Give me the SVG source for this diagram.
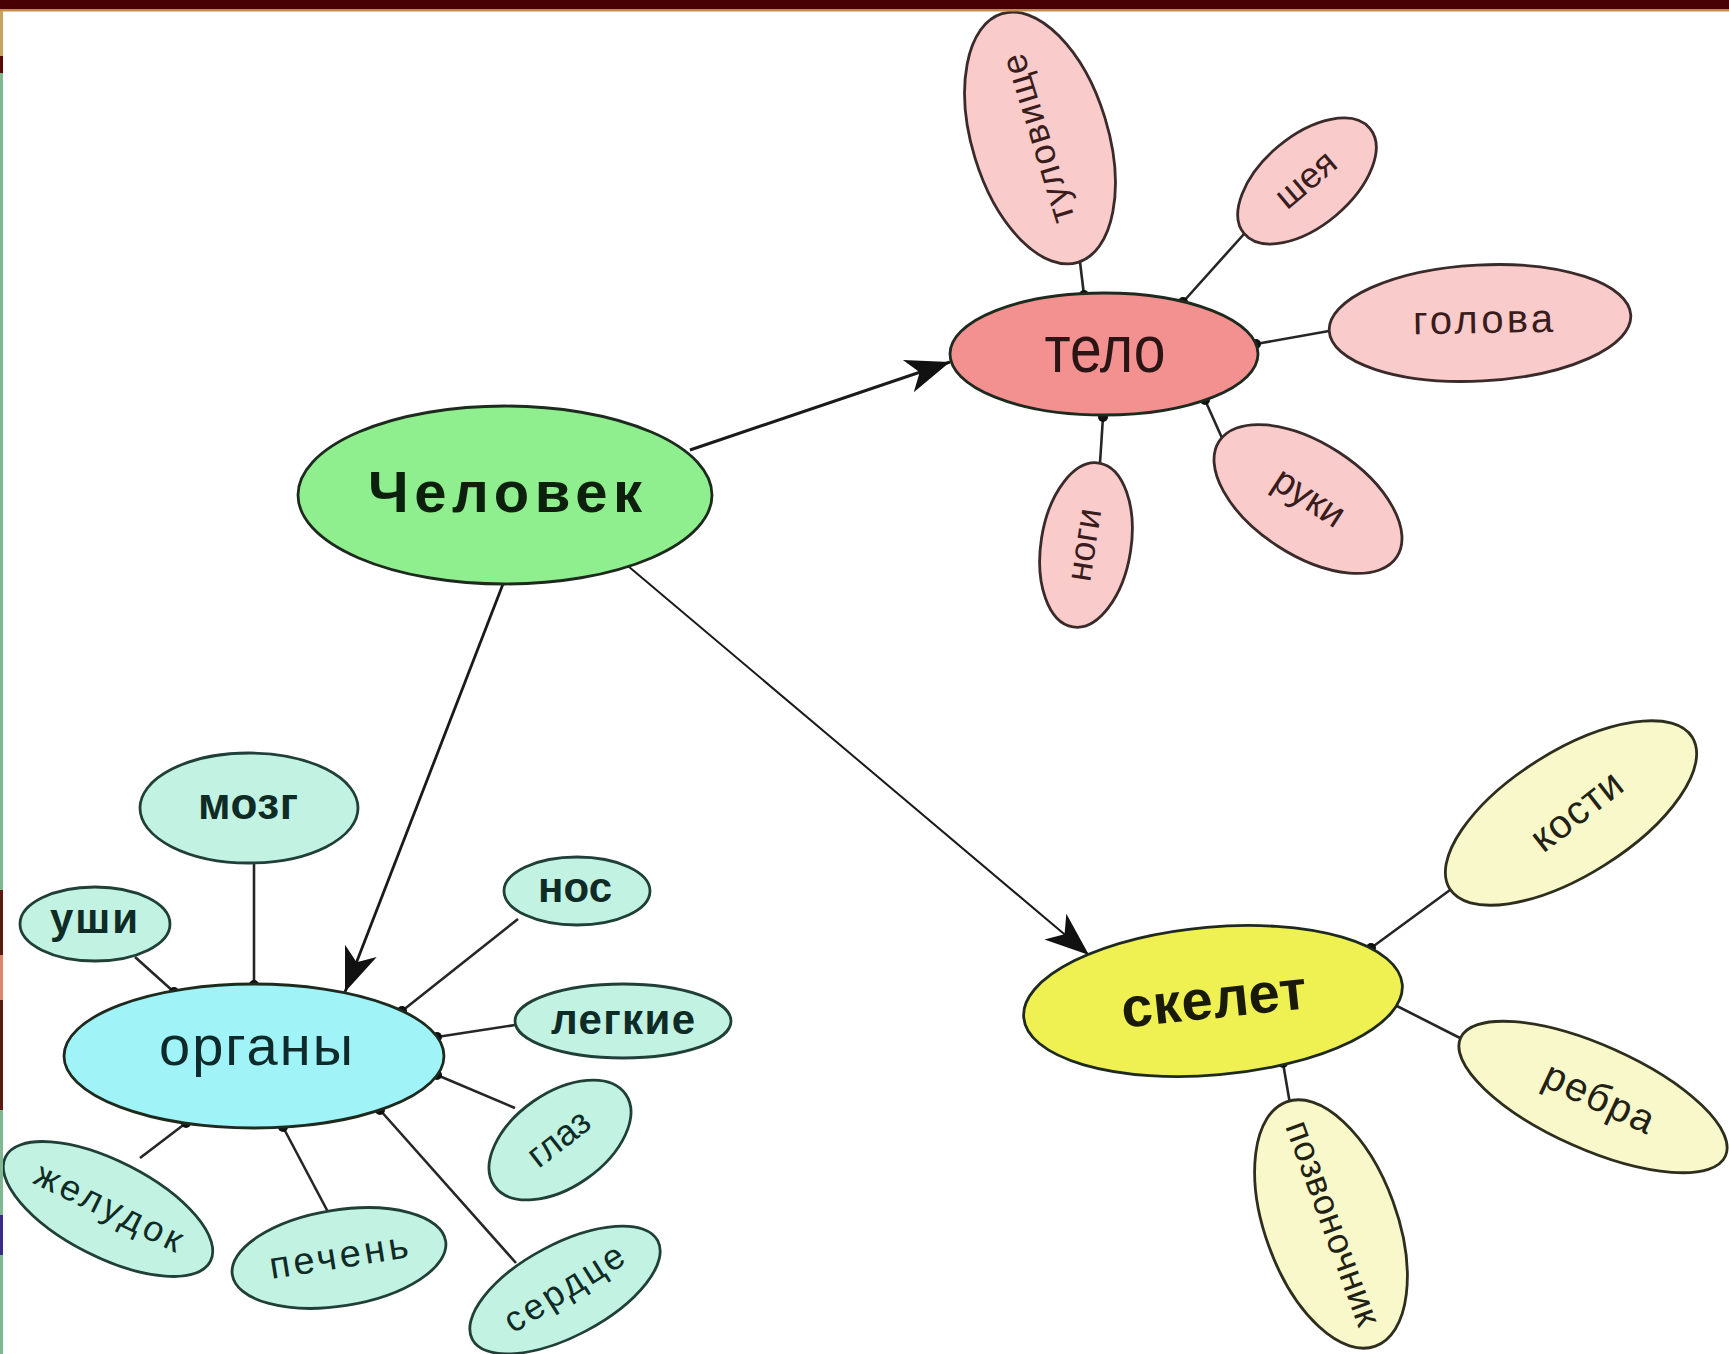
<svg xmlns="http://www.w3.org/2000/svg" width="1729" height="1354" viewBox="0 0 1729 1354">
<style>
  ellipse { stroke-width: 2.8; }
  .hub { stroke: #1e2a1e; }
  .pk { fill: #f9cbcb; stroke: #3a2a2a; }
  .tl { fill: #c2f2e2; stroke: #1f3f37; }
  .yl { fill: #f8f8cb; stroke: #2e2e1e; }
  text { font-family: "Liberation Sans", Arial, Helvetica, sans-serif; text-anchor: middle; }
  .b { font-weight: bold; }
  .tp { fill: #3a1c1c; }
  .tt { fill: #0e2b26; }
  .ty { fill: #222214; }
  .ln { stroke: #262626; stroke-width: 2.6; fill: none; }
  .ar { stroke: #1a1a1a; fill: none; }
</style>
<defs>
  <marker id="dot" viewBox="-6 -6 12 12" markerWidth="12" markerHeight="12" markerUnits="userSpaceOnUse" refX="0" refY="0">
    <circle r="5" fill="#111"/>
  </marker>
  <marker id="arr" viewBox="-46 -19 48 38" markerWidth="48" markerHeight="38" markerUnits="userSpaceOnUse" refX="0" refY="0" orient="auto">
    <path d="M0,0 L-44,-17 L-32,0 L-44,17 Z" fill="#111"/>
  </marker>
</defs>
<rect x="0" y="0" width="1729" height="1354" fill="#ffffff"/>

<g id="connectors">
  <line class="ar" x1="690" y1="450" x2="950" y2="362" stroke-width="3" marker-end="url(#arr)"/>
  <line class="ar" x1="503" y1="584" x2="345" y2="992" stroke-width="2.8" marker-end="url(#arr)"/>
  <line class="ar" x1="628" y1="566" x2="1089" y2="955" stroke-width="2" marker-end="url(#arr)"/>
  <!-- тело -->
  <line class="ln" x1="1080" y1="262" x2="1084" y2="295" marker-end="url(#dot)"/>
  <line class="ln" x1="1244" y1="234" x2="1183" y2="302" marker-end="url(#dot)"/>
  <line class="ln" x1="1329" y1="331" x2="1256" y2="344" marker-end="url(#dot)"/>
  <line class="ln" x1="1222" y1="438" x2="1205" y2="400" marker-end="url(#dot)"/>
  <line class="ln" x1="1100" y1="463" x2="1103" y2="417" marker-end="url(#dot)"/>
  <!-- органы -->
  <line class="ln" x1="254" y1="863" x2="254" y2="985" marker-end="url(#dot)"/>
  <line class="ln" x1="135" y1="957" x2="174" y2="992" marker-end="url(#dot)"/>
  <line class="ln" x1="518" y1="919" x2="402" y2="1011" marker-end="url(#dot)"/>
  <line class="ln" x1="515" y1="1025" x2="437" y2="1037" marker-end="url(#dot)"/>
  <line class="ln" x1="515" y1="1108" x2="437" y2="1075" marker-end="url(#dot)"/>
  <line class="ln" x1="140" y1="1158" x2="186" y2="1123" marker-end="url(#dot)"/>
  <line class="ln" x1="328" y1="1212" x2="283" y2="1127" marker-end="url(#dot)"/>
  <line class="ln" x1="516" y1="1263" x2="380" y2="1110" marker-end="url(#dot)"/>
  <!-- скелет -->
  <line class="ln" x1="1450" y1="890" x2="1371" y2="948" marker-end="url(#dot)"/>
  <line class="ln" x1="1460" y1="1038" x2="1393" y2="1004" marker-end="url(#dot)"/>
  <line class="ln" x1="1290" y1="1104" x2="1283" y2="1063" marker-end="url(#dot)"/>
</g>

<g id="chelovek">
  <ellipse class="hub" cx="505" cy="495" rx="207" ry="89" fill="#8fef8f"/>
  <text class="b" x="505" y="512" font-size="58" fill="#0d200d" textLength="274" lengthAdjust="spacing">Человек</text>
</g>

<g id="telo">
  <ellipse class="hub" cx="1104" cy="354" rx="154" ry="61" fill="#f39090" stroke="#3a1e1e"/>
  <text x="1105" y="372" font-size="66" fill="#2a1414" textLength="121" lengthAdjust="spacingAndGlyphs">тело</text>
</g>
<g id="tulovische">
  <ellipse class="pk" cx="1040" cy="138" rx="68" ry="130" transform="rotate(-17 1040 138)"/>
  <text class="tp" x="1040" y="138" dy="0.27em" font-size="36" textLength="175" lengthAdjust="spacing" transform="rotate(-107 1040 138)">туловище</text>
</g>
<g id="sheya">
  <ellipse class="pk" cx="1307" cy="181" rx="82" ry="45" transform="rotate(-40 1307 181)"/>
  <text class="tp" x="1307" y="181" dy="0.27em" font-size="36" transform="rotate(-40 1307 181)">шея</text>
</g>
<g id="golova">
  <ellipse class="pk" cx="1480" cy="323" rx="151" ry="58" transform="rotate(-3 1480 323)"/>
  <text class="tp" x="1483" y="333" font-size="40" textLength="140" lengthAdjust="spacing" transform="rotate(-1 1483 323)">голова</text>
</g>
<g id="ruki">
  <ellipse class="pk" cx="1308" cy="499" rx="106" ry="56" transform="rotate(33 1308 499)"/>
  <text class="tp" x="1308" y="499" dy="0.27em" font-size="38" transform="rotate(33 1308 499)">руки</text>
</g>
<g id="nogi">
  <ellipse class="pk" cx="1086" cy="545" rx="45" ry="83" transform="rotate(9 1086 545)"/>
  <text class="tp" x="1086" y="545" dy="0.27em" font-size="36" transform="rotate(-81 1086 545)">ноги</text>
</g>

<g id="organy">
  <ellipse class="hub" cx="254" cy="1056" rx="190" ry="72" fill="#a0f4f8" stroke="#1e3a3a"/>
  <text x="256" y="1065" font-size="56" fill="#0f2a2a" textLength="194" lengthAdjust="spacing">органы</text>
</g>
<g id="mozg">
  <ellipse class="tl" cx="249" cy="808" rx="109" ry="55"/>
  <text class="b tt" x="248" y="819" font-size="44" textLength="100" lengthAdjust="spacing">мозг</text>
</g>
<g id="ushi">
  <ellipse class="tl" cx="95" cy="924" rx="75" ry="37"/>
  <text class="b tt" x="94" y="933" font-size="42" textLength="88" lengthAdjust="spacing">уши</text>
</g>
<g id="nos">
  <ellipse class="tl" cx="577" cy="891" rx="73" ry="34"/>
  <text class="b tt" x="575" y="902" font-size="42" textLength="74" lengthAdjust="spacing">нос</text>
</g>
<g id="legkie">
  <ellipse class="tl" cx="623" cy="1021" rx="108" ry="37"/>
  <text class="b tt" x="623" y="1034" font-size="42" textLength="144" lengthAdjust="spacing">легкие</text>
</g>
<g id="glaz">
  <ellipse class="tl" cx="560" cy="1140" rx="80" ry="47" transform="rotate(-35 560 1140)"/>
  <text class="tt" x="560" y="1140" dy="0.27em" font-size="36" transform="rotate(-38 560 1140)">глаз</text>
</g>
<g id="zheludok">
  <ellipse class="tl" cx="108" cy="1209" rx="115" ry="48" transform="rotate(27 108 1209)"/>
  <text class="tt" x="108" y="1209" dy="0.27em" font-size="36" textLength="160" lengthAdjust="spacing" transform="rotate(26 108 1209)">желудок</text>
</g>
<g id="pechen">
  <ellipse class="tl" cx="339" cy="1258" rx="108" ry="48" transform="rotate(-9 339 1258)"/>
  <text class="tt" x="339" y="1258" dy="0.27em" font-size="38" textLength="140" lengthAdjust="spacing" transform="rotate(-9 339 1258)">печень</text>
</g>
<g id="serdtse">
  <ellipse class="tl" cx="565" cy="1290" rx="105" ry="46" transform="rotate(-28 565 1290)"/>
  <text class="tt" x="565" y="1290" dy="0.27em" font-size="36" textLength="135" lengthAdjust="spacing" transform="rotate(-32 565 1290)">сердце</text>
</g>

<g id="skelet">
  <ellipse class="hub" cx="1213" cy="1001" rx="190" ry="74" fill="#eff052" stroke="#2a2a10" transform="rotate(-5 1213 1001)"/>
  <text class="b" x="1214" y="1018" font-size="56" fill="#1a1a08" textLength="186" lengthAdjust="spacing" transform="rotate(-6 1214 1001)">скелет</text>
</g>
<g id="kosti">
  <ellipse class="yl" cx="1571" cy="813" rx="143" ry="62" transform="rotate(-32 1571 813)"/>
  <text class="ty" x="1578" y="813" dy="0.27em" font-size="40" textLength="105" lengthAdjust="spacing" transform="rotate(-38 1578 813)">кости</text>
</g>
<g id="rebra">
  <ellipse class="yl" cx="1593" cy="1097" rx="145" ry="52" transform="rotate(24 1593 1097)"/>
  <text class="ty" x="1598" y="1100" dy="0.27em" font-size="40" textLength="118" lengthAdjust="spacing" transform="rotate(25 1598 1100)">ребра</text>
</g>
<g id="pozvonochnik">
  <ellipse class="yl" cx="1331" cy="1224" rx="66" ry="130" transform="rotate(-20 1331 1224)"/>
  <text class="ty" x="1331" y="1224" dy="0.27em" font-size="36" textLength="215" lengthAdjust="spacing" transform="rotate(70 1331 1224)">позвоночник</text>
</g>

<g id="frame">
  <rect x="0" y="0" width="1729" height="9" fill="#480005"/>
  <rect x="0" y="9" width="1729" height="2.5" fill="#c58a4e"/>
  <rect x="0" y="11" width="3" height="45" fill="#c9a35f"/>
  <rect x="0" y="56" width="3" height="17" fill="#5a0808"/>
  <rect x="0" y="73" width="3" height="817" fill="#80b892"/>
  <rect x="0" y="890" width="3" height="220" fill="#5c1a10"/>
  <rect x="0" y="955" width="3" height="45" fill="#d9866a"/>
  <rect x="0" y="1110" width="3" height="105" fill="#80b892"/>
  <rect x="0" y="1215" width="3" height="40" fill="#3a2a8a"/>
  <rect x="0" y="1255" width="3" height="99" fill="#80b892"/>
</g>
</svg>
